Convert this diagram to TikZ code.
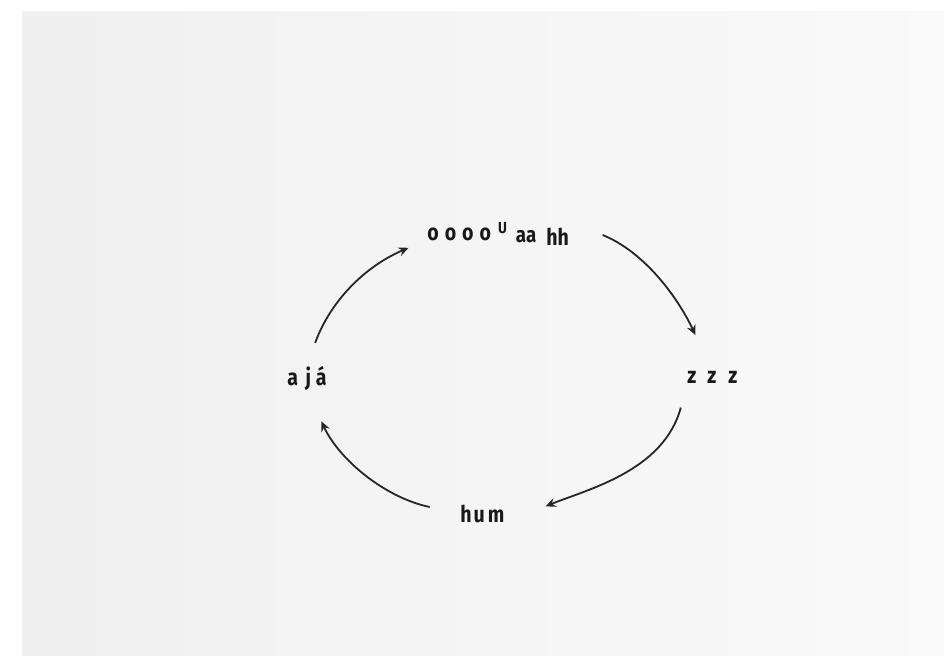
\documentclass[tikz,border=0pt]{standalone}
\usepackage{fontspec}
\usepackage{tikz}
\usetikzlibrary{arrows.meta}
\newfontfamily\handfont{Fira Sans}[FakeStretch=0.85]

\tikzset{
    word/.style={inner sep=0pt, anchor=base west, text=black!90,
        font=\handfont\bfseries\fontsize{11.5}{13}\selectfont},
    flow/.style={line width=0.9pt, black!85, -{Stealth[length=5pt,width=4.5pt]}}
}

\begin{document}
\begin{tikzpicture}[x=0.5pt, y=0.5pt]
    \useasboundingbox (0,0) rectangle (944,655);

    % Paper
    \shade[left color=black!6, right color=black!2] (22,0) rectangle (944,643);

    % Words of the cycle
    \node[word] (oooo) at (427,415) {o\hspace{3pt}o\hspace{3pt}o\hspace{3pt}o\hspace{3.5pt}\raisebox{3.5pt}{\fontsize{8}{8}\selectfont U}\hspace{4.5pt}\raisebox{-1pt}{\fontsize{11}{11}\selectfont aa}\hspace{5pt}\raisebox{-2.5pt}{hh}};
    \node[word] (zzz) at (687,271) {z\hspace{5.5pt}z\hspace{6pt}z};
    \node[word] (hum) at (460,133) {h\hspace{1pt}u\hspace{1.5pt}m};
    \node[word] (aja) at (287,270) {a\hspace{3.8pt}j\hspace{2.3pt}á};

    % Arrows round the cycle
    \draw[flow, shorten <=12pt, shorten >=10pt] (aja.north) to[out=70, in=203] (oooo.base west);
    \draw[flow, shorten <=18pt, shorten >=20pt] (oooo.north east) to[out=-22, in=115] (zzz.north);
    \draw[flow, shorten <=12pt, shorten >=22pt] (zzz.south west) to[out=-105, in=22] (hum.south east);
    \draw[flow, shorten <=15.5pt, shorten >=17pt] (hum.west) to[out=168, in=-65] (aja.south);
\end{tikzpicture}
\end{document}
